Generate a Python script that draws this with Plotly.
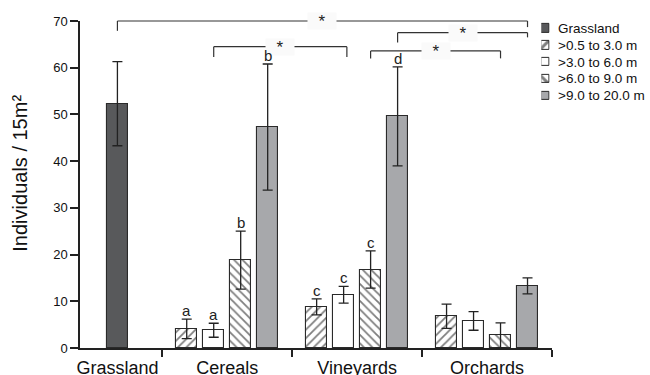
import plotly.graph_objects as go

# ---------------- data ----------------
grass_label = "Grassland"
grass_value = [52.3]
grass_err = [9.0]

land_uses = ["Cereals", "Vineyards", "Orchards"]
series_names = [">0.5 to 3.0 m", ">3.0 to 6.0 m", ">6.0 to 9.0 m", ">9.0 to 20.0 m"]
s1_values = [4.1, 8.8, 6.8]
s1_err = [2.1, 1.7, 2.6]
s2_values = [3.8, 11.4, 5.8]
s2_err = [1.5, 1.8, 2.0]
s3_values = [18.8, 16.8, 2.7]
s3_err = [6.2, 4.0, 2.7]
s4_values = [47.3, 49.6, 13.3]
s4_err = [13.5, 10.6, 1.7]
s1_letters = ["a", "c", ""]
s2_letters = ["a", "c", ""]
s3_letters = ["b", "c", ""]
s4_letters = ["b", "d", ""]

y_ticks = [0, 10, 20, 30, 40, 50, 60, 70]
y_title = "Individuals / 15m²"

# ---------------- layout constants ----------------
FONT = "Arial, Liberation Sans, Helvetica, sans-serif"
W, H = 650, 375
M_L, M_R, M_T, M_B = 80, 97.7, 10, 27.3
PLOT_H = H - M_T - M_B
PLOT_W = W - M_L - M_R
Y_TOP_PX = 21.0                       # pixel row of the y = 70 tick
AXIS_BOTTOM_PX = H - M_B
YDOM_TOP = (AXIS_BOTTOM_PX - Y_TOP_PX) / PLOT_H
GRASS_X = -0.345
X_MIN = -0.633
BAR_STEP = 0.2077
BAR_W = 0.158
DARK = "#58595b"
GREY = "#a7a8ab"
EDGE = "#2a2a2a"
Y_MAX = 70.0

def xpos(g, i):
    return g + 0.5 + (i - 1.5) * BAR_STEP

def px_to_paper_x(px):
    return (px - M_L) / PLOT_W

def px_to_paper_y(py):
    return (AXIS_BOTTOM_PX - py) / PLOT_H

values = [s1_values, s2_values, s3_values, s4_values]
errs = [s1_err, s2_err, s3_err, s4_err]
letters = [s1_letters, s2_letters, s3_letters, s4_letters]

def hatch(shape, size=6):
    return dict(shape=shape, fgcolor="#000", bgcolor="white", size=size, solidity=0.3)

def styles_for(size):
    return [
        dict(color="white", pattern=hatch("/", size)),
        dict(color="white"),
        dict(color="white", pattern=hatch("\\", size)),
        dict(color=GREY),
    ]

grass_marker = dict(color=DARK)
styles = styles_for(6)

fig = go.Figure()
ebar = dict(type="data", visible=True, color="#222", thickness=1.3, width=5)

fig.add_trace(go.Bar(
    x=[GRASS_X], y=grass_value, width=BAR_W, name=grass_label, showlegend=False,
    marker=dict(line=dict(color=EDGE, width=1.1), **grass_marker),
    error_y=dict(array=grass_err, **ebar),
))
for i in range(4):
    xs = [xpos(g, i) for g in range(len(land_uses))]
    fig.add_trace(go.Bar(
        x=xs, y=values[i], width=BAR_W, name=series_names[i], showlegend=False,
        marker=dict(line=dict(color=EDGE, width=1.1), **styles[i]),
        error_y=dict(array=errs[i], **ebar),
    ))

# ---- legend drawn as a tiny second subplot (swatches keep the hatch patterns) ----
legend_names = [grass_label] + series_names
legend_styles = [grass_marker] + styles_for(10)
for name, st in zip(legend_names, legend_styles):
    fig.add_trace(go.Bar(
        x=[1], y=[name], orientation="h", width=0.5, showlegend=False,
        marker=dict(line=dict(color=EDGE, width=1), **st),
        xaxis="x2", yaxis="y2", hoverinfo="skip",
    ))

shapes = []
annotations = []

def bracket(x0, x1, y, d0, d1):
    yp = YDOM_TOP * y / Y_MAX
    q0 = YDOM_TOP * d0 / Y_MAX
    q1 = YDOM_TOP * d1 / Y_MAX
    for (xa, ya, xb, yb) in [(x0, q0, x0, yp), (x0, yp, x1, yp), (x1, yp, x1, q1)]:
        shapes.append(dict(type="line", xref="x", yref="paper", x0=xa, y0=ya, x1=xb, y1=yb,
                           line=dict(color="#333", width=1.2)))
    annotations.append(dict(x=(x0 + x1) / 2, y=yp, xref="x", yref="paper", text="*",
                            showarrow=False, font=dict(family=FONT, size=17, color="#222"),
                            bgcolor="#fafafa", width=26, height=14, xanchor="center", yanchor="middle"))

bracket(GRASS_X, xpos(2, 3), 70.0, 67.9, 68.7)
bracket(xpos(0, 1), xpos(1, 1) + 0.025, 64.5, 62.3, 62.3)
bracket(xpos(1, 2), xpos(2, 2), 63.6, 62.0, 62.0)
bracket(xpos(1, 3), xpos(2, 3), 67.5, 65.4, 66.5)

for i in range(4):
    for g in range(len(land_uses)):
        if letters[i][g]:
            annotations.append(dict(x=xpos(g, i), y=values[i][g] + errs[i][g], xref="x", yref="y",
                                    text=letters[i][g], showarrow=False, yanchor="bottom",
                                    yshift=-2, font=dict(family=FONT, size=15, color="#222")))

ROW = 16.85
LEG_TOP_ROW = 28.3
n_leg = len(legend_names)
for k, name in enumerate(legend_names):
    annotations.append(dict(x=px_to_paper_x(556), y=px_to_paper_y(LEG_TOP_ROW + k * ROW),
                            xref="paper", yref="paper", text=name,
                            showarrow=False, xanchor="left", yanchor="middle",
                            font=dict(family=FONT, size=13.5, color="#111")))

annotations.append(dict(x=px_to_paper_x(20.5), y=px_to_paper_y(173), xref="paper", yref="paper",
                        text=y_title, textangle=-90, showarrow=False,
                        xanchor="center", yanchor="middle",
                        font=dict(family=FONT, size=20, color="#111")))

fig.update_layout(
    width=W, height=H,
    margin=dict(l=M_L, r=M_R, t=M_T, b=M_B, autoexpand=False),
    paper_bgcolor="white", plot_bgcolor="rgba(0,0,0,0)",
    barmode="overlay", bargap=0,
    font=dict(family=FONT, color="#111"),
    showlegend=False,
    shapes=shapes, annotations=annotations,
    xaxis=dict(
        domain=[0, 1],
        range=[X_MIN, 3.0], showline=True, linecolor="#222", linewidth=1.5,
        tickvals=[GRASS_X, 0.5, 1.5, 2.5], ticktext=[grass_label] + land_uses,
        ticks="outside", ticklen=3, tickcolor="rgba(0,0,0,0)",
        tickfont=dict(family=FONT, size=18, color="#111"),
        minor=dict(tickvals=[0, 1, 2, 2.999], ticks="outside", ticklen=7, tickwidth=1.5, tickcolor="#222"),
        showgrid=False, zeroline=False, fixedrange=True,
    ),
    yaxis=dict(
        domain=[0, YDOM_TOP],
        range=[0, Y_MAX], tickvals=y_ticks, showline=True, linecolor="#222", linewidth=1.5,
        ticks="outside", ticklen=8, tickwidth=1.5, tickcolor="#222",
        tickfont=dict(family=FONT, size=13, color="#111"),
        showgrid=False, zeroline=False, fixedrange=True,
    ),
    xaxis2=dict(domain=[px_to_paper_x(541.7), px_to_paper_x(550)], range=[0, 1], visible=False,
                anchor="y2", fixedrange=True),
    yaxis2=dict(domain=[px_to_paper_y(LEG_TOP_ROW + (n_leg - 0.5) * ROW),
                        px_to_paper_y(LEG_TOP_ROW - 0.5 * ROW)],
                type="category", categoryarray=legend_names, categoryorder="array",
                range=[n_leg - 0.5, -0.5], visible=False, anchor="x2", fixedrange=True),
)

fig.write_html("out.html", config={"displayModeBar": False},
               post_script="document.body.style.margin='0';document.body.style.overflow='hidden';")
